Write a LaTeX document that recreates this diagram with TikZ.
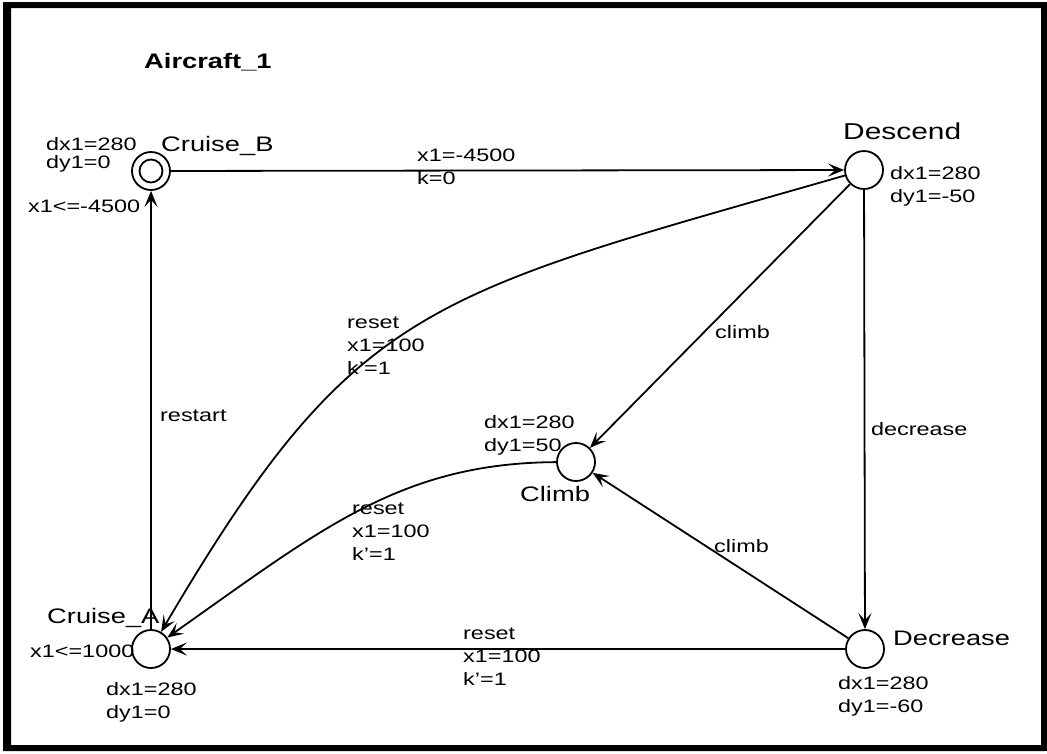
\documentclass[tikz,border=0pt]{standalone}
\usepackage{fontspec}
\setmainfont{Liberation Sans}[FakeStretch=1.3]
\usetikzlibrary{arrows.meta}
\begin{document}
\begin{tikzpicture}[x=1pt,y=-1pt,
  state/.style={circle,draw,line width=1.8pt,minimum size=38pt,inner sep=0pt},
  edge/.style={line width=1.8pt,-{Stealth[length=16pt,width=13pt,inset=7pt]}},
  lbl/.style={inner sep=0pt,anchor=north west,align=left,font=\fontsize{18}{23}\selectfont},
  nm/.style={inner sep=0pt,anchor=north west,font=\fontsize{21}{25}\selectfont}]
\useasboundingbox (0,0) rectangle (1047,753);
\fill[even odd rule] (3,2) rectangle (1047,751) (11,8) rectangle (1041,745);

% states
\node[state] (CB) at (151,171) {};
\draw[line width=1.8pt] (CB.center) circle[radius=11.5pt];
\node[state] (D) at (864,170) {};
\node[state] (Cl) at (576,462) {};
\node[state] (CA) at (151,649) {};
\node[state] (De) at (865,649) {};

% edges
\draw[edge] (CB) -- (D);
\draw[edge] (D) .. controls (425,296) and (356,301) .. (CA);
\draw[edge] (D) -- (Cl);
\draw[edge] (D) -- (De);
\draw[edge] (Cl) .. controls (400,463) and (320,530) .. (CA);
\draw[edge] (De) -- (Cl);
\draw[edge] (De) -- (CA);
\draw[edge] (CA) -- (CB);

% texts
\node[nm,font=\bfseries\fontsize{21}{25}\selectfont] (title) at (144,53) {Aircraft\_1};
\node[lbl] (lCB) at (46,137) {dx1=280\\[-5pt]dy1=0};
\node[nm] (nCB) at (161,136) {Cruise\_B};
\node[lbl] (gCB) at (28,200) {x1<=-4500};
\node[lbl] (e1) at (417,149) {x1=-4500\\k=0};
\node[nm,font=\fontsize{23}{27}\selectfont] (nD) at (843,123) {Descend};
\node[lbl] (lD) at (890,166) {dx1=280\\dy1=-50};
\node[lbl] (e2) at (347,317) {reset\\x1=100\\k’=1};
\node[lbl] (e3) at (715,325) {climb};
\node[lbl] (e4) at (871,422) {decrease};
\node[lbl] (lCl) at (484,415) {dx1=280\\dy1=50};
\node[nm] (nCl) at (520,486) {Climb};
\node[lbl] (e5) at (352,503) {reset\\x1=100\\k’=1};
\node[lbl] (e6) at (714,539) {climb};
\node[lbl] (e7) at (160,410) {restart};
\node[nm] (nCA) at (47,608) {Cruise\_A};
\node[lbl] (gCA) at (30,645) {x1<=1000};
\node[lbl] (lCA) at (106,682) {dx1=280\\dy1=0};
\node[lbl] (e8) at (463,628) {reset\\x1=100\\k’=1};
\node[nm] (nDe) at (893,631) {Decrease};
\node[lbl] (lDe) at (838,676) {dx1=280\\dy1=-60};
\end{tikzpicture}
\end{document}
